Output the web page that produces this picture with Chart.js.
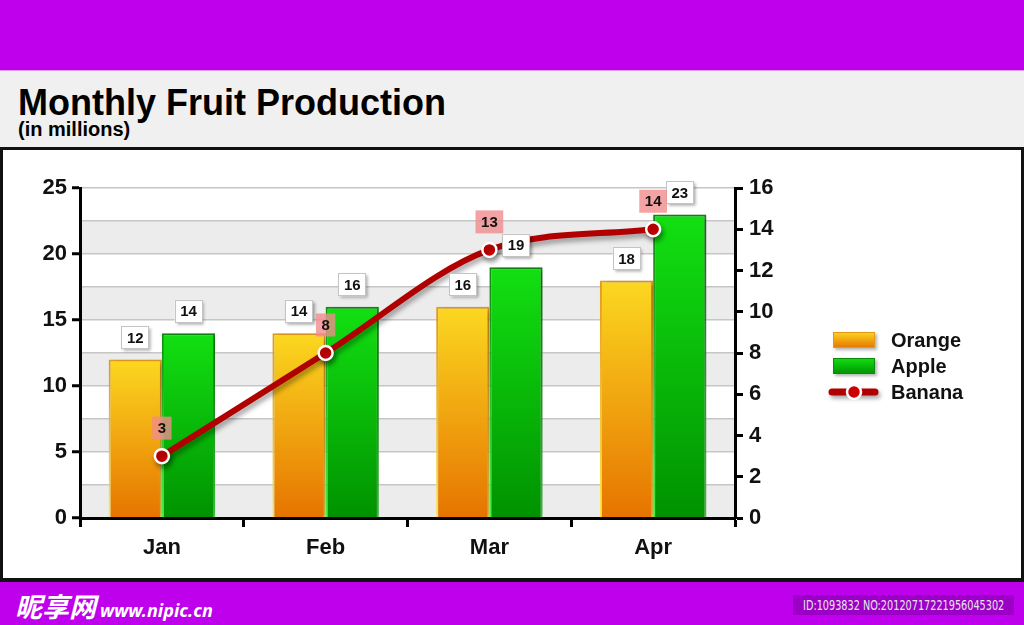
<!DOCTYPE html>
<html>
<head>
<meta charset="utf-8">
<script src="https://cdn.jsdelivr.net/npm/chart.js@4/dist/chart.umd.min.js"></script>
<style>
  body { margin: 0; width: 1024px; height: 625px; overflow: hidden; background: #fff; font-family: "Liberation Sans", Arial, sans-serif; }
  #topBand { position: absolute; left: 0; top: 0; width: 1024px; height: 70px; background: #be00ec; }
  #titleBand { position: absolute; left: 0; top: 70px; width: 1024px; height: 77px; background: #f0f0f0; border-top: 1px solid #d9a0ea; }
  #title { position: absolute; left: 18px; top: 82px; font-weight: bold; font-size: 36px; color: #000; white-space: nowrap; }
  #subtitle { position: absolute; left: 18px; top: 118px; font-weight: bold; font-size: 20px; color: #000; white-space: nowrap; }
  #frame { position: absolute; left: 0; top: 147px; width: 1018px; height: 428px; border: 3px solid #111; border-bottom-width: 4px; background: #fff; }
  #chartBox { position: absolute; left: 3px; top: 151px; }
  #bottomBand { position: absolute; left: 0; top: 582px; width: 1024px; height: 43px; background: #be00ec; }
  #logo { position: absolute; left: 15px; top: 586px; color: #fff; white-space: nowrap; }
  #logo .cn { font-family: "Noto Sans CJK SC", sans-serif; font-weight: bold; font-size: 27px; font-style: italic; }
  #logo .url { font-family: "Noto Sans", sans-serif; font-weight: bold; font-style: italic; font-size: 18px; margin-left: 4px; }
  #idBox { position: absolute; left: 793px; top: 595px; width: 221px; height: 20px; background: #9c00c6; color: #e6e6e6; font-family: "DejaVu Sans Condensed", sans-serif; font-size: 14px; line-height: 20px; text-align: center; white-space: nowrap; overflow: hidden; }
  #idBox span { display: inline-block; transform: scaleX(0.77); transform-origin: center; margin: 0 -60px; }
</style>
</head>
<body>
<div id="topBand"></div>
<div id="titleBand"></div>
<div id="title">Monthly Fruit Production</div>
<div id="subtitle">(in millions)</div>
<div id="frame"></div>
<div id="chartBox"><canvas id="myChart" width="1018" height="427"></canvas></div>
<div id="bottomBand"></div>
<div id="logo"><span class="cn">昵享网</span><span class="url">www.nipic.cn</span></div>
<div id="idBox"><span>ID:1093832 NO:20120717221956045302</span></div>

<script>
// chart data
const months = ['Jan', 'Feb', 'Mar', 'Apr'];
const orangeValues = [12, 14, 16, 18];
const appleValues = [14, 16, 19, 23];
const bananaValues = [3, 8, 13, 14];

// axis settings
const leftMax = 25;
const leftStep = 2.5;
const leftLabelStep = 5;
const rightMax = 16;
const rightStep = 2;

const fontFamily = '"Liberation Sans", Arial, sans-serif';

// vertical gradient for a bar, from its top to its base
function barGradient(context, topColor, bottomColor) {
    const chart = context.chart;
    const y = chart.scales.y;
    if (!y || context.raw === undefined || context.raw === null) return topColor;
    const top = y.getPixelForValue(context.raw);
    const base = y.getPixelForValue(0);
    if (!isFinite(top) || !isFinite(base) || top === base) return topColor;
    const g = chart.ctx.createLinearGradient(0, top, 0, base);
    g.addColorStop(0, topColor);
    g.addColorStop(1, bottomColor);
    return g;
}

const orangeStyle = { top: '#fbd820', bottom: '#e67400', borderTop: '#e39a1c', borderBottom: '#ffe850' };
const appleStyle = { top: '#12e012', bottom: '#009200', borderTop: '#0c8a0c', borderBottom: '#4cf04c' };
const bananaStyle = { line: '#b00000', point: '#cc0000' };

// alternating grey bands behind the grid
const bandsPlugin = {
    id: 'bands',
    beforeDraw(chart) {
        const ctx = chart.ctx;
        const a = chart.chartArea;
        const y = chart.scales.y;
        ctx.save();
        ctx.fillStyle = '#ececec';
        let i = 0;
        for (let v = 0; v < leftMax; v += leftStep) {
            if (i % 2 === 0) {
                const t = y.getPixelForValue(v + leftStep);
                const b = y.getPixelForValue(v);
                ctx.fillRect(a.left, t, a.right - a.left, b - t);
            }
            i++;
        }
        ctx.restore();
    }
};

// soft drop shadows for bars and the line
const shadowPlugin = {
    id: 'shadows',
    beforeDatasetDraw(chart, args) {
        const ctx = chart.ctx;
        ctx.save();
        if (args.meta.type === 'bar') {
            ctx.shadowColor = 'rgba(0,0,0,0.28)';
            ctx.shadowOffsetX = 4;
            ctx.shadowOffsetY = 2;
            ctx.shadowBlur = 6;
        } else {
            ctx.shadowColor = 'rgba(0,0,0,0.35)';
            ctx.shadowOffsetX = 2;
            ctx.shadowOffsetY = 4;
            ctx.shadowBlur = 5;
        }
    },
    afterDatasetDraw(chart) {
        chart.ctx.restore();
    }
};

function drawTag(ctx, text, cx, cy, fill, stroke, shadow) {
    ctx.font = 'bold 15px ' + fontFamily;
    const w = ctx.measureText(text).width + 11;
    const h = 23;
    ctx.save();
    if (shadow) {
        ctx.shadowColor = 'rgba(0,0,0,0.35)';
        ctx.shadowOffsetX = 2;
        ctx.shadowOffsetY = 2;
        ctx.shadowBlur = 3;
    }
    ctx.fillStyle = fill;
    ctx.fillRect(cx - w / 2, cy - h / 2, w, h);
    ctx.restore();
    if (stroke) {
        ctx.strokeStyle = stroke;
        ctx.lineWidth = 1;
        ctx.strokeRect(Math.round(cx - w / 2) + 0.5, Math.round(cy - h / 2) + 0.5, Math.round(w) - 1, h - 1);
    }
    ctx.fillStyle = '#111';
    ctx.textAlign = 'center';
    ctx.textBaseline = 'middle';
    ctx.fillText(text, cx, cy + 1);
}

// value tags above bars and points
const tagsPlugin = {
    id: 'tags',
    afterDatasetsDraw(chart) {
        const ctx = chart.ctx;
        chart.data.datasets.forEach(function(ds, i) {
            const meta = chart.getDatasetMeta(i);
            meta.data.forEach(function(el, j) {
                if (ds.type === 'line') {
                    drawTag(ctx, String(ds.data[j]), el.x, el.y - 28, 'rgba(240,140,140,0.8)', null, false);
                } else {
                    drawTag(ctx, String(ds.data[j]), el.x, el.y - 22, '#ffffff', '#c4c4c4', true);
                }
            });
        });
    }
};

// legend at the right side
const legendPlugin = {
    id: 'sideLegend',
    afterDraw(chart) {
        const ctx = chart.ctx;
        const a = chart.chartArea;
        const x0 = a.right + 98;
        const mid = (a.top + a.bottom) / 2 + 13;
        const rowH = 26;
        const datasets = chart.data.datasets;
        const styles = [orangeStyle, appleStyle];
        datasets.forEach(function(ds, i) {
            const cy = mid + (i - 1) * rowH;
            ctx.save();
            if (ds.type === 'line') {
                ctx.shadowColor = 'rgba(0,0,0,0.35)';
                ctx.shadowOffsetX = 2;
                ctx.shadowOffsetY = 3;
                ctx.shadowBlur = 4;
                ctx.strokeStyle = bananaStyle.line;
                ctx.lineWidth = 7;
                ctx.lineCap = 'round';
                ctx.beginPath();
                ctx.moveTo(x0 - 1, cy);
                ctx.lineTo(x0 + 42, cy);
                ctx.stroke();
                ctx.shadowColor = 'transparent';
                ctx.beginPath();
                ctx.arc(x0 + 21, cy, 7, 0, Math.PI * 2);
                ctx.fillStyle = bananaStyle.point;
                ctx.fill();
                ctx.lineWidth = 2.5;
                ctx.strokeStyle = '#fff';
                ctx.stroke();
            } else {
                const s = styles[i];
                const g = ctx.createLinearGradient(0, cy - 8, 0, cy + 8);
                g.addColorStop(0, s.top);
                g.addColorStop(1, s.bottom);
                ctx.shadowColor = 'rgba(0,0,0,0.3)';
                ctx.shadowOffsetX = 2;
                ctx.shadowOffsetY = 2;
                ctx.shadowBlur = 3;
                ctx.fillStyle = g;
                ctx.fillRect(x0, cy - 8, 42, 16);
                ctx.shadowColor = 'transparent';
                ctx.strokeStyle = s.borderTop;
                ctx.lineWidth = 1;
                ctx.strokeRect(x0 + 0.5, cy - 7.5, 41, 15);
            }
            ctx.restore();
            ctx.fillStyle = '#111';
            ctx.font = 'bold 20px ' + fontFamily;
            ctx.textAlign = 'left';
            ctx.textBaseline = 'middle';
            ctx.fillText(ds.label, x0 + 58, cy + 1);
        });
    }
};

const data = {
    labels: months,
    datasets: [
        {
            label: 'Orange',
            data: orangeValues,
            yAxisID: 'y',
            order: 1,
            backgroundColor: c => barGradient(c, orangeStyle.top, orangeStyle.bottom),
            borderColor: c => barGradient(c, orangeStyle.borderTop, orangeStyle.borderBottom),
            borderWidth: 2,
            categoryPercentage: 0.65,
            barPercentage: 1.0
        },
        {
            label: 'Apple',
            data: appleValues,
            yAxisID: 'y',
            order: 1,
            backgroundColor: c => barGradient(c, appleStyle.top, appleStyle.bottom),
            borderColor: c => barGradient(c, appleStyle.borderTop, appleStyle.borderBottom),
            borderWidth: 2,
            categoryPercentage: 0.65,
            barPercentage: 1.0
        },
        {
            type: 'line',
            label: 'Banana',
            data: bananaValues,
            yAxisID: 'y2',
            order: 0,
            borderColor: bananaStyle.line,
            borderWidth: 6,
            cubicInterpolationMode: 'monotone',
            pointRadius: 7,
            pointBackgroundColor: bananaStyle.point,
            pointBorderColor: '#ffffff',
            pointBorderWidth: 2.5,
            fill: false
        }
    ]
};

const config = {
    type: 'bar',
    data: data,
    options: {
        responsive: false,
        animation: false,
        devicePixelRatio: 1,
        layout: { padding: { top: 37, right: 236, bottom: 0, left: 0 } },
        plugins: {
            legend: { display: false },
            tooltip: { enabled: false }
        },
        scales: {
            x: {
                offset: true,
                grid: {
                    offset: true,
                    drawOnChartArea: false,
                    tickColor: '#000',
                    tickWidth: 3,
                    tickLength: 9
                },
                border: { color: '#000', width: 3 },
                ticks: {
                    color: '#111',
                    padding: 8,
                    font: { family: fontFamily, size: 22, weight: 'bold' }
                },
                afterFit: function(scale) { scale.height = 60; }
            },
            y: {
                position: 'left',
                min: 0,
                max: leftMax,
                grid: {
                    color: '#c6c6c6',
                    lineWidth: 1.5,
                    tickColor: c => (c.tick && c.tick.value % leftLabelStep === 0) ? '#000' : 'rgba(0,0,0,0)',
                    tickWidth: 3,
                    tickLength: 8
                },
                border: { color: '#000', width: 3 },
                ticks: {
                    stepSize: leftStep,
                    autoSkip: false,
                    color: '#111',
                    padding: 5,
                    font: { family: fontFamily, size: 22, weight: 'bold' },
                    callback: v => (v % leftLabelStep === 0) ? v : ''
                },
                afterFit: function(scale) { scale.width = 77; }
            },
            y2: {
                position: 'right',
                min: 0,
                max: rightMax,
                grid: {
                    drawOnChartArea: false,
                    tickColor: '#000',
                    tickWidth: 3,
                    tickLength: 8
                },
                border: { color: '#000', width: 3 },
                ticks: {
                    stepSize: rightStep,
                    color: '#111',
                    padding: 6,
                    font: { family: fontFamily, size: 22, weight: 'bold' }
                },
                afterFit: function(scale) { scale.width = 50; }
            }
        }
    },
    plugins: [bandsPlugin, shadowPlugin, tagsPlugin, legendPlugin]
};

var myChartJS = new Chart(document.getElementById('myChart'), config);
</script>
</body>
</html>
